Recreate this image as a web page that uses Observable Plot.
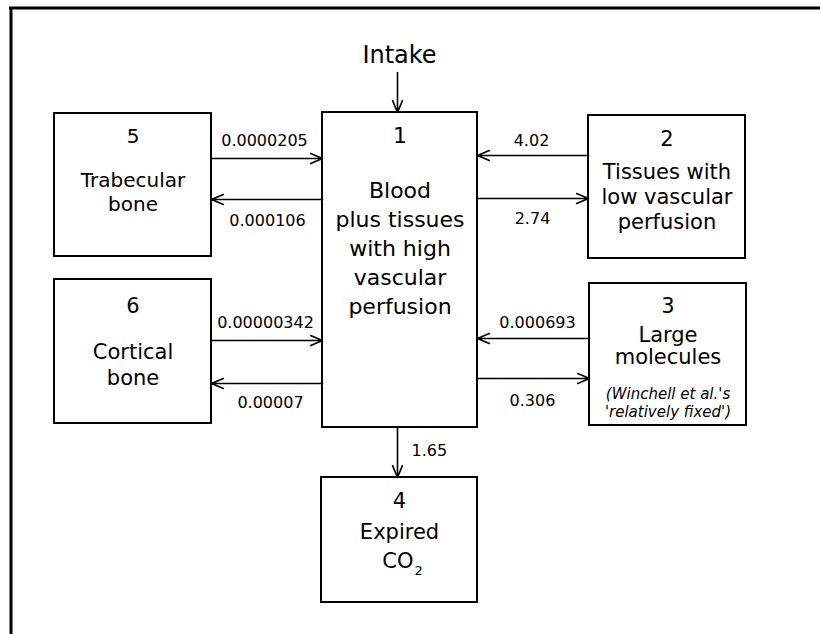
<!DOCTYPE html>
<html>
<head>
<meta charset="utf-8">
<script src="https://cdn.jsdelivr.net/npm/d3@7"></script>
<script src="https://cdn.jsdelivr.net/npm/@observablehq/plot@0.6"></script>
<style>
  html, body { margin: 0; padding: 0; background: #fff; }
  #chart svg { display: block; }
</style>
</head>
<body>
<div id="chart"></div>
<script>
// ---------- DATA ----------
const compartmentIds = [1, 2, 3, 4, 5, 6];
const compartmentNames = [
  ["Blood", "plus tissues", "with high", "vascular", "perfusion"],
  ["Tissues with", "low vascular", "perfusion"],
  ["Large", "molecules"],
  ["Expired", "CO₂"],
  ["Trabecular", "bone"],
  ["Cortical", "bone"]
];
const compartmentNotes = [[], [], ["(Winchell et al.'s", "'relatively fixed')"], [], [], []];
const inputLabel = "Intake";
const flowFrom = [5, 1, 2, 1, 6, 1, 3, 1, 1];
const flowTo   = [1, 5, 1, 2, 1, 6, 1, 3, 4];
const flowRate = ["0.0000205", "0.000106", "4.02", "2.74", "0.00000342", "0.00007", "0.000693", "0.306", "1.65"];

// ---------- LAYOUT (diagram geometry, in px) ----------
const boxGeom = {
  1: {x1: 322, y1: 112, x2: 477, y2: 427, fs: 22, numBase: 142, lineBase: 197, lh: 29},
  2: {x1: 588, y1: 115, x2: 745, y2: 258, fs: 21, numBase: 145, lineBase: 178, lh: 25},
  3: {x1: 589, y1: 283, x2: 746, y2: 425, fs: 21, numBase: 312, lineBase: 341, lh: 22, noteBase: 398, noteLh: 18.5},
  4: {x1: 321, y1: 477, x2: 477, y2: 602, fs: 21, numBase: 507, lineBase: 538, lh: 29},
  5: {x1: 54,  y1: 113, x2: 211, y2: 256, fs: 20, numBase: 142, lineBase: 186, lh: 24},
  6: {x1: 54,  y1: 279, x2: 211, y2: 423, fs: 21, numBase: 312, lineBase: 358, lh: 26}
};
const flowGeom = [
  {level: 158, lx: 264, ly: 145, anchor: "middle"},
  {level: 199, lx: 267, ly: 225, anchor: "middle"},
  {level: 155, lx: 531, ly: 145, anchor: "middle"},
  {level: 198, lx: 532, ly: 223, anchor: "middle"},
  {level: 340, lx: 265, ly: 327, anchor: "middle"},
  {level: 383, lx: 270, ly: 407, anchor: "middle"},
  {level: 338, lx: 537, ly: 327, anchor: "middle"},
  {level: 378, lx: 532, ly: 405, anchor: "middle"},
  {level: 397, lx: 411, ly: 455, anchor: "start"}
];
const inputGeom = {x: 397, y1: 72, textY: 62};

// ---------- BUILD TABLES ----------
const boxes = compartmentIds.map(id => ({id, ...boxGeom[id]}));

const flows = flowFrom.map((from, i) => {
  const a = boxGeom[from], b = boxGeom[flowTo[i]], g = flowGeom[i];
  let x1, y1, x2, y2;
  if (a.y2 <= b.y1 || b.y2 <= a.y1) {
    x1 = x2 = g.level;
    y1 = a.y2 < b.y1 ? a.y2 : a.y1;
    y2 = a.y2 < b.y1 ? b.y1 : b.y2;
  } else {
    y1 = y2 = g.level;
    x1 = a.x2 <= b.x1 ? a.x2 : a.x1;
    x2 = a.x2 <= b.x1 ? b.x1 : b.x2;
  }
  return {from, to: flowTo[i], rate: flowRate[i], x1, y1, x2, y2, lx: g.lx, ly: g.ly, anchor: g.anchor};
});
flows.push({from: 0, to: 1, rate: "", x1: inputGeom.x, x2: inputGeom.x, y1: inputGeom.y1, y2: boxGeom[1].y1});

const numberText = boxes.map(b => ({text: String(b.id), x: (b.x1 + b.x2) / 2, y: b.numBase, fs: b.fs}));
const nameText = boxes.flatMap(b => compartmentNames[compartmentIds.indexOf(b.id)].map((t, j) => ({
  text: t, x: (b.x1 + b.x2) / 2, y: b.lineBase + j * b.lh, fs: b.fs
})));
const plainText = nameText.filter(d => !d.text.includes("₂"));
const chemText = nameText.filter(d => d.text.includes("₂"));
const chemBase = chemText.map(d => ({...d, text: d.text.replace("₂", ""), x: d.x + 14}));
const chemSub = chemText.map(d => ({...d, text: "2", x: d.x + 14, y: d.y + 7}));
const noteText = boxes.flatMap(b => compartmentNotes[compartmentIds.indexOf(b.id)].map((t, j) => ({
  text: t, x: (b.x1 + b.x2) / 2, y: b.noteBase + j * b.noteLh
})));
const rateLabels = flows.filter(f => f.rate !== "");

const FONT = "DejaVu Sans, Verdana, sans-serif";
const sizes = [20, 21, 22];

const chart = Plot.plot({
  width: 820,
  height: 634,
  margin: 0,
  x: {type: "linear", domain: [0, 820], range: [0, 820], axis: null},
  y: {type: "linear", domain: [0, 634], range: [0, 634], axis: null},
  style: {fontFamily: FONT, background: "#fff", color: "#000"},
  marks: [
    Plot.ruleX([10.5], {x: d => d, y1: 7.5, y2: 634, stroke: "#000", strokeWidth: 3}),
    Plot.ruleY([7.5], {y: d => d, x1: 9, x2: 820, stroke: "#000", strokeWidth: 3}),
    Plot.rect(boxes, {x1: "x1", y1: "y1", x2: "x2", y2: "y2", fill: "#fff", stroke: "#000", strokeWidth: 2}),
    Plot.arrow(flows, {x1: "x1", y1: "y1", x2: "x2", y2: "y2", stroke: "#000", strokeWidth: 1.6,
      headAngle: 45, headLength: 12, insetStart: 0, insetEnd: 0}),
    Plot.text([inputLabel], {x: inputGeom.x + 2, y: inputGeom.textY, text: d => d, fontSize: 24,
      lineAnchor: "bottom", fill: "#000", fontFamily: FONT}),
    ...sizes.map(fs => Plot.text(plainText.filter(d => d.fs === fs), {x: "x", y: "y", text: "text",
      fontSize: fs, lineAnchor: "bottom", fill: "#000", fontFamily: FONT})),
    ...sizes.map(fs => Plot.text(numberText.filter(d => d.fs === fs), {x: "x", y: "y", text: "text",
      fontSize: fs, lineAnchor: "bottom", fill: "#000", fontFamily: FONT})),
    Plot.text(chemBase, {x: "x", y: "y", text: "text", fontSize: 21, textAnchor: "end",
      lineAnchor: "bottom", fill: "#000", fontFamily: FONT}),
    Plot.text(chemSub, {x: "x", y: "y", text: "text", fontSize: 13, textAnchor: "start", dx: 1,
      lineAnchor: "bottom", fill: "#000", fontFamily: FONT}),
    Plot.text(noteText, {x: "x", y: "y", text: "text", fontSize: 15, fontStyle: "italic",
      lineAnchor: "bottom", fill: "#000", fontFamily: FONT}),
    Plot.text(rateLabels.filter(d => d.anchor === "middle"), {x: "lx", y: "ly", text: "rate", fontSize: 16,
      textAnchor: "middle", lineAnchor: "bottom", fill: "#000", fontFamily: FONT}),
    Plot.text(rateLabels.filter(d => d.anchor === "start"), {x: "lx", y: "ly", text: "rate", fontSize: 16,
      textAnchor: "start", lineAnchor: "bottom", fill: "#000", fontFamily: FONT})
  ]
});
document.getElementById("chart").appendChild(chart);
</script>
</body>
</html>
